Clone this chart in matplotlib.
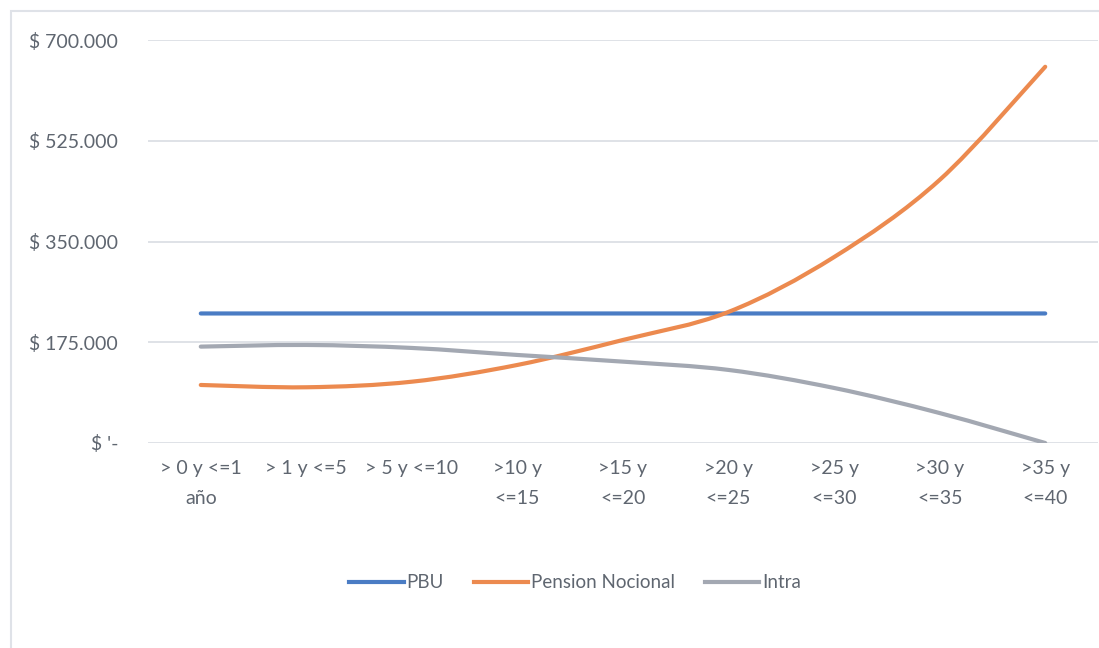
import matplotlib
matplotlib.use("Agg")
import matplotlib.pyplot as plt
from matplotlib.path import Path
from matplotlib.patches import PathPatch, Rectangle
from matplotlib.lines import Line2D
import numpy as np

categories = ["> 0 y <=1\naño", "> 1 y <=5", "> 5 y <=10", ">10 y\n<=15", ">15 y\n<=20",
              ">20 y\n<=25", ">25 y\n<=30", ">30 y\n<=35", ">35 y\n<=40"]
pbu = [225000, 225000, 225000, 225000, 225000, 225000, 225000, 225000, 225000]
pension_nocional = [100800, 96800, 106500, 135600, 179000, 227700, 323000, 457000, 653500]
intra = [167400, 170300, 165100, 152900, 141300, 126900, 95600, 52000, 0]
yticks = [0, 175000, 350000, 525000, 700000]
ytick_labels = ["$ '-", "$ 175.000", "$ 350.000", "$ 525.000", "$ 700.000"]

series = [("PBU", pbu, "#4a7cc4"),
          ("Pension Nocional", pension_nocional, "#ec8a4f"),
          ("Intra", intra, "#a3a8b2")]

FONT = "Lato"
TXT = "#5f6670"

fig = plt.figure(figsize=(10.99, 6.48), dpi=100)
fig.patches.append(Rectangle((11 / 1099, -0.05), 1.2, 1 - 11 / 648 + 0.05,
                             transform=fig.transFigure, fill=False,
                             edgecolor="#dfe2e8", linewidth=1.5, zorder=0))
ax = fig.add_axes([148 / 1099, 1 - 443 / 648, (1098 - 148) / 1099, (443 - 40) / 648])
ax.set_xlim(-0.5, len(categories) - 0.5)
ax.set_ylim(0, 700000)
for s in ax.spines.values():
    s.set_visible(False)
for y in yticks:
    ax.axhline(y, color="#dcdfe5", linewidth=1.3, zorder=1)


def smooth_path(xs, ys, t=1 / 6):
    xs = np.asarray(xs, float)
    ys = np.asarray(ys, float)
    n = len(xs)
    verts = [(xs[0], ys[0])]
    codes = [Path.MOVETO]
    for i in range(n - 1):
        p0 = i - 1 if i > 0 else i
        p3 = i + 2 if i + 2 < n else i + 1
        c1 = (xs[i] + (xs[i + 1] - xs[p0]) * t, ys[i] + (ys[i + 1] - ys[p0]) * t)
        c2 = (xs[i + 1] - (xs[p3] - xs[i]) * t, ys[i + 1] - (ys[p3] - ys[i]) * t)
        verts += [c1, c2, (xs[i + 1], ys[i + 1])]
        codes += [Path.CURVE4] * 3
    return Path(verts, codes)


x = np.arange(len(categories))
handles = []
for name, vals, col in series:
    patch = PathPatch(smooth_path(x, vals), facecolor="none", edgecolor=col,
                      linewidth=3.0, capstyle="round", zorder=3)
    ax.add_patch(patch)
    handles.append(Line2D([], [], color=col, linewidth=3.0, label=name))

ax.set_yticks(yticks)
ax.set_yticklabels(ytick_labels, fontsize=14, color=TXT, family=FONT)
ax.set_xticks(x)
ax.set_xticklabels(categories, fontsize=14, color=TXT, family=FONT, linespacing=1.95)
ax.tick_params(axis="y", length=0, pad=21.5)
ax.tick_params(axis="x", length=0, pad=12)

leg = fig.legend(handles=handles, loc="center", bbox_to_anchor=(575 / 1099, 1 - 583 / 648),
                 ncol=3, frameon=False, handlelength=2.9, handletextpad=0.15,
                 columnspacing=1.6, prop={"family": FONT, "size": 13.5})
for t in leg.get_texts():
    t.set_color(TXT)

fig.savefig("out.png", dpi=100, facecolor="white")
